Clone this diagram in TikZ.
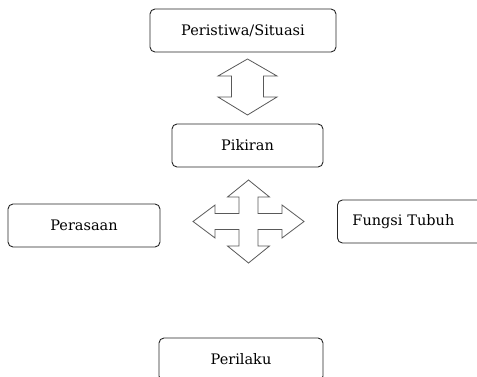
\documentclass[tikz,border=0pt]{standalone}
\usepackage{fontspec}
\setmainfont{DejaVu Serif}
\begin{document}
\begin{tikzpicture}[x=1pt,y=-1pt,
  box/.style={draw=black!85,line width=0.9pt,rounded corners=5pt,inner sep=0pt,font=\fontsize{14.5}{16}\selectfont},
  bigarrow/.style={draw=black!65,line width=0.8pt,fill=white,line join=miter}]
\useasboundingbox (0,0) rectangle (477,377);
\node[box,minimum width=186pt,minimum height=43pt] (ev) at (243,30.5) {Peristiwa/Situasi};
\node[box,minimum width=151pt,minimum height=43pt] (pk) at (247.5,145.5) {Pikiran};
\node[box,minimum width=152pt,minimum height=43pt] (ps) at (84,225.5) {Perasaan};
\node[box,anchor=west,text width=130pt,inner xsep=15pt,align=left,minimum height=43pt] (ft) at (337,221.5) {Fungsi Tubuh};
\node[box,minimum width=164pt,minimum height=43pt] (pl) at (241,359.5) {Perilaku};
% up-down arrow between ev and pk
\coordinate (ud) at (247.5,87);
\draw[bigarrow] (247.5,59) -- (277,76) -- (263.5,76) -- (263.5,97) -- (277,97) -- (247.5,115)
  -- (218,97) -- (231.5,97) -- (231.5,76) -- (218,76) -- cycle;
% quad arrow
\coordinate (qa) at (248.5,221.5);
\draw[bigarrow] (248.5,180) -- (269.5,197) -- (258,197) -- (258,213.5) -- (282,213.5) -- (282,205)
  -- (304,221.5) -- (282,238) -- (282,229.5) -- (258,229.5) -- (258,246) -- (269.5,246)
  -- (248.5,263) -- (227.5,246) -- (239,246) -- (239,229.5) -- (215,229.5) -- (215,238)
  -- (193,221.5) -- (215,205) -- (215,213.5) -- (239,213.5) -- (239,197) -- (227.5,197) -- cycle;
\end{tikzpicture}
\end{document}
